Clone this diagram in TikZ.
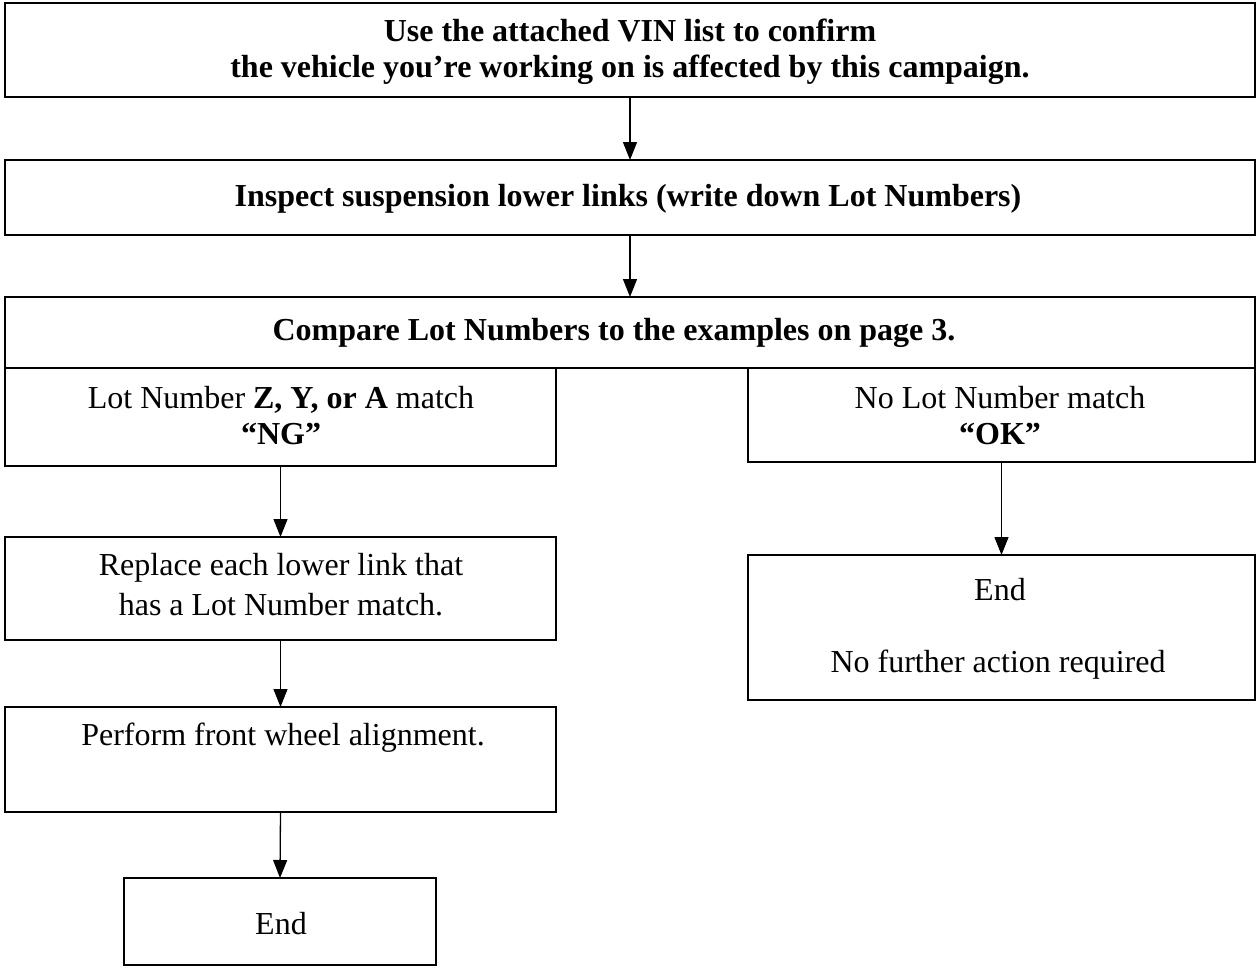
\documentclass[tikz,border=0pt]{standalone}
\usepackage{fontspec}
\setmainfont{Liberation Serif}
\usetikzlibrary{arrows.meta}
\begin{document}
\begin{tikzpicture}[x=1pt,y=-1pt,
  box/.style={draw, line width=1.6pt, inner sep=0pt, outer sep=0pt, anchor=north west},
  txt/.style={inner sep=0pt, font=\fontsize{32}{36}\selectfont, align=center},
  arr/.style={line width=1.3pt, -{Triangle[width=14pt,length=18pt]}}]
\useasboundingbox (0,0) rectangle (1259,972);
% boxes
\node[box, minimum width=1250pt, minimum height=94pt] (b1) at (5,3) {};
\node[box, minimum width=1250pt, minimum height=75pt] (b2) at (5,160) {};
\node[box, minimum width=1250pt, minimum height=71pt] (b3) at (5,297) {};
\node[box, minimum width=551pt, minimum height=98pt] (ng) at (5,368) {};
\node[box, minimum width=507pt, minimum height=94pt] (ok) at (748,368) {};
\node[box, minimum width=551pt, minimum height=103pt] (rep) at (5,537) {};
\node[box, minimum width=551pt, minimum height=105pt] (align) at (5,707) {};
\node[box, minimum width=312pt, minimum height=87pt] (endl) at (124,878) {};
\node[box, minimum width=507pt, minimum height=145pt] (endr) at (748,555) {};
% texts
\node[txt] (t1) at (630,52) {\textbf{Use the attached VIN list to confirm}\\\textbf{the vehicle you’re working on is affected by this campaign.}};
\node[txt] (t2) at (628,199) {\textbf{Inspect suspension lower links (write down Lot Numbers)}};
\node[txt] (t3) at (614,333) {\textbf{Compare Lot Numbers to the examples on page 3.}};
\node[txt] (t4) at (281,416) {Lot Number \textbf{Z, Y, or A} match\\\textbf{“NG”}};
\node[txt] (t5) at (1000,416) {No Lot Number match\\\textbf{“OK”}};
\node[txt] (t6) at (281,585) {Replace each lower link that\\[4pt]has a Lot Number match.};
\node[txt] (t7) at (283,738) {Perform front wheel alignment.};
\node[txt] (t8) at (281,924) {End};
\node[txt] (t9) at (1000,590) {End};
\node[txt] (t10) at (998,665) {No further action required};
% arrows
\draw[arr] (b1.south) -- (b2.north);
\draw[arr] (b2.south) -- (b3.north);
\draw[arr] (ng.south) -- (rep.north);
\draw[arr] (rep.south) -- (align.north);
\draw[arr] (align.south) -- (endl.north);
\draw[arr] (ok.south) -- (endr.north);
\end{tikzpicture}
\end{document}
